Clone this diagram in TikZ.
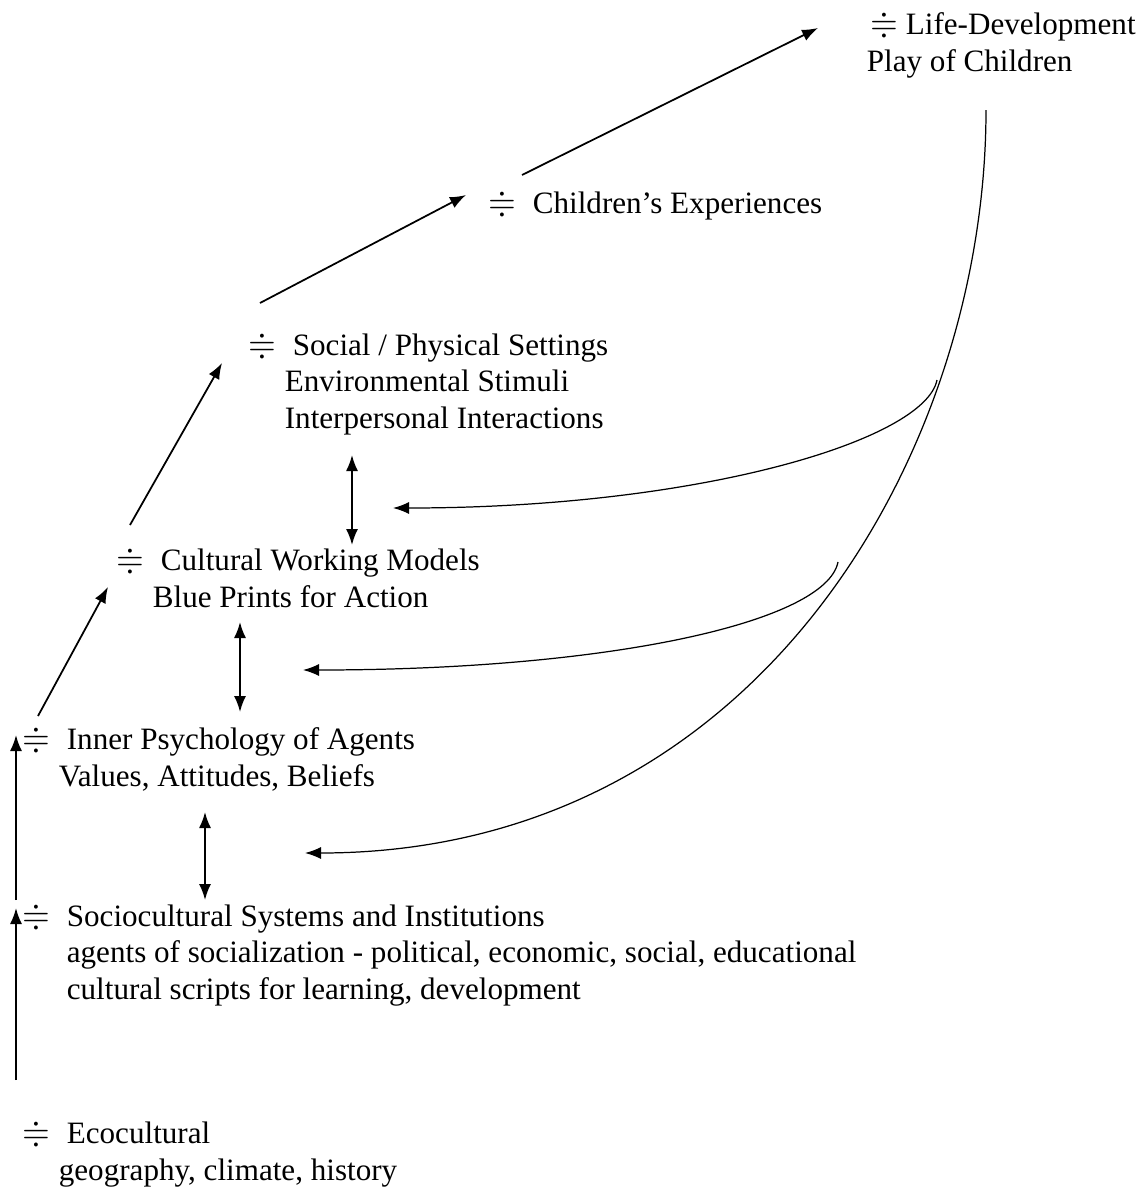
\documentclass[tikz,border=0pt]{standalone}
\usepackage{amssymb}
\usepackage{fontspec}
\setmainfont{Liberation Serif}
\usetikzlibrary{arrows.meta}

\newlength\pu
\setlength\pu{0.2mm}
\newcommand{\dsym}{\scalebox{1.15}{$\doteqdot$}}
\newcommand{\itm}{\makebox[44\pu][l]{\dsym}}

\begin{document}
\begin{tikzpicture}[x=0.2mm, y=-0.2mm, >={Latex[length=3.2mm,width=2.4mm]}, line width=1pt]
		\tikzset{blk/.style={anchor=base west, inner sep=0pt, align=left, font=\fontsize{17.7}{20.5}\selectfont}}
		
			\useasboundingbox (0,0) rectangle (1145,1189);
			
			% nodes sit on the baseline of their last line
			\node[blk] (life) at (866,71) {\hspace*{4\pu}\makebox[35\pu][l]{\dsym}Life-Development\\Play of Children};
			\node[blk] (chexp) at (488,213) {\itm Children's Experiences};
			\node[blk] (settings) at (248,428) {\itm Social / Physical Settings\\\hspace*{36\pu}Environmental Stimuli\\\hspace*{36\pu}Interpersonal Interactions};
			\node[blk] (models) at (116,607) {\itm Cultural Working Models\\\hspace*{36\pu}Blue Prints for Action};
			\node[blk] (psych) at (22,786) {\itm Inner Psychology of Agents\\\hspace*{36\pu}Values, Attitudes, Beliefs};
			\node[blk] (systems) at (22,999) {\itm Sociocultural Systems and Institutions\\\hspace*{44\pu}agents of socialization - political, economic, social, educational\\\hspace*{44\pu}cultural scripts for learning, development};
			\node[blk] (eco) at (22,1180) {\itm Ecocultural\\\hspace*{36\pu}geography, climate, history};
			
			% upward chain
			\draw[->] ([shift={(-6,-100)}]eco.base west) -- ([shift={(-6,-91)}]systems.base west);
			\draw[->] ([shift={(-6,-99)}]systems.base west) -- ([shift={(-6,-51)}]psych.base west);
			\draw[->] ([shift={(16,-70)}]psych.base west) -- ([shift={(-8,-20)}]models.base west);
			\draw[->] ([shift={(14,-82)}]models.base west) -- ([shift={(-26,-65)}]settings.base west);
			\draw[->] ([shift={(12,-125)}]settings.base west) -- ([shift={(-22,-18)}]chexp.base west);
			\draw[->] ([shift={(34,-38)}]chexp.base west) -- ([shift={(-48,-43)}]life.base west);
			
			% two-way links
			\draw[<->] ([shift={(104,27)}]settings.base west) -- ([shift={(236,-62)}]models.base west);
			\draw[<->] ([shift={(124,15)}]models.base west) -- ([shift={(218,-74)}]psych.base west);
			\draw[<->] ([shift={(183,26)}]psych.base west) -- ([shift={(183,-99)}]systems.base west);
			
			% feedback curves
			\draw[->, line width=0.7pt] ([shift={(120,39)}]life.base west) .. controls +(0,340) and +(455,0) .. ([shift={(283,67)}]psych.base west);
			\draw[->, line width=0.7pt] ([shift={(71,309)}]life.base west) .. controls +(-12,60) and +(307,0) .. ([shift={(145,80)}]settings.base west);
			\draw[->, line width=0.7pt] ([shift={(-28,491)}]life.base west) .. controls +(-12,60) and +(307,0) .. ([shift={(187,63)}]models.base west);
		
\end{tikzpicture}
\end{document}
